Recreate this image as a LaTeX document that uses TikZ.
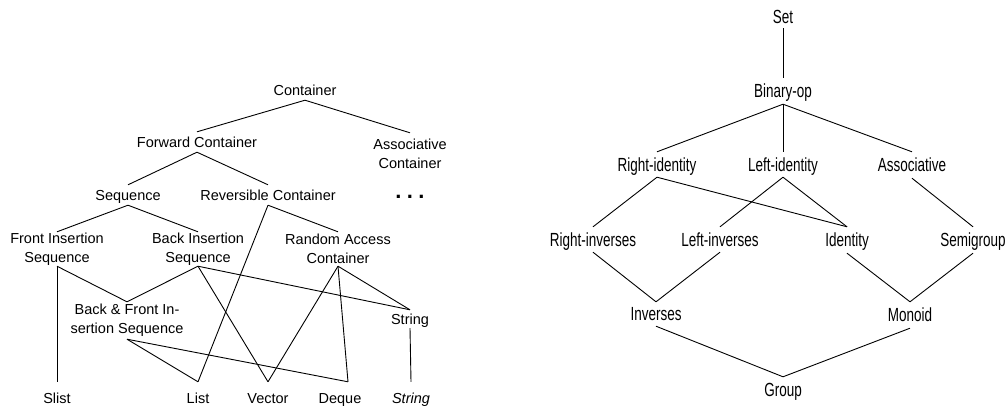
\documentclass[tikz,border=0pt]{standalone}
\usepackage{fontspec}
\setmainfont{Liberation Sans}
\newfontfamily\narrowfont[FakeStretch=0.71]{Liberation Sans}
\tikzset{
  lt/.style={font=\fontsize{14.5}{19}\selectfont, inner sep=0pt, text height=10.4pt, text depth=0pt, minimum height=20pt},
  ltt/.style={font=\fontsize{14.5}{19}\selectfont, inner sep=0pt, align=center},
  rt/.style={font=\fontsize{19}{23}\selectfont\narrowfont, inner sep=0pt, text height=13.6pt, text depth=0pt},
  edge/.style={line width=0.9pt, black}
}
\begin{document}
\begin{tikzpicture}[x=1pt,y=-1pt]
\useasboundingbox (0,0) rectangle (1008,410);
% ---------- left diagram ----------
\node[lt] (cont) at (305,90) {Container};
\node[lt] (fwd) at (197,142) {Forward Container};
\node[ltt, minimum height=41pt] (assoc) at (410,153.5) {Associative\\Container};
\node[lt] (seq) at (128,195) {Sequence};
\node[lt] (rev) at (268,195) {Reversible Container};
\node[inner sep=0pt, anchor=base, font=\bfseries\fontsize{22}{24}\selectfont] (dots) at (410,198) {.\hspace{5.4pt}.\hspace{5.4pt}.};
\node[ltt, minimum height=34pt] (fis) at (57,249) {Front Insertion\\Sequence};
\node[ltt, minimum height=34pt] (bis) at (198,249) {Back Insertion\\Sequence};
\node[ltt, minimum height=34pt] (ra) at (338,249) {Random Access\\Container};
\node[ltt, minimum height=37pt] (bf) at (127,320.5) {Back \& Front In-\\sertion Sequence};
\node[lt, minimum height=18pt] (str) at (410,319) {String};
\node[lt, minimum height=32pt] (slist) at (57,398) {Slist};
\node[lt, minimum height=32pt] (list) at (198,398) {List};
\node[lt, minimum height=32pt] (vec) at (268,398) {Vector};
\node[lt, minimum height=32pt] (deq) at (340,398) {Deque};
\node[lt, minimum height=32pt] (stri) at (411,398) {\textit{String}};
\coordinate (deqtop) at ([xshift=8pt]deq.north);
\draw[edge] (cont.south) -- (fwd.north);
\draw[edge] (cont.south) -- (assoc.north);
\draw[edge] (fwd.south) -- (seq.north);
\draw[edge] (fwd.south) -- (rev.north);
\draw[edge] (seq.south) -- (fis.north);
\draw[edge] (seq.south) -- (bis.north);
\draw[edge] (rev.south) -- (list.north);
\draw[edge] (rev.south) -- (ra.north);
\draw[edge] (fis.south) -- (slist.north);
\draw[edge] (fis.south) -- (bf.north);
\draw[edge] (bis.south) -- (bf.north);
\draw[edge] (bis.south) -- (vec.north);
\draw[edge] (bis.south) -- (str.north);
\draw[edge] (ra.south) -- (vec.north);
\draw[edge] (ra.south) -- (deqtop);
\draw[edge] (ra.south) -- (str.north);
\draw[edge] (bf.south) -- (list.north);
\draw[edge] (bf.south) -- (deqtop);
\draw[edge] (str.south) -- (stri.north);
% ---------- right diagram ----------
\node[rt, minimum height=22pt] (set) at (783,17) {Set};
\node[rt, minimum height=26pt] (bin) at (783,91) {Binary-op};
\node[rt, minimum height=25pt] (ri) at (657,164.5) {Right-identity};
\node[rt, minimum height=25pt] (li) at (783,164.5) {Left-identity};
\node[rt, minimum height=26pt] (as) at (912,165) {Associative};
\node[rt, minimum height=25pt] (rinv) at (593,239.5) {Right-inverses};
\node[rt, minimum height=25pt] (linv) at (720,239.5) {Left-inverses};
\node[rt, minimum height=26pt] (id) at (847,240) {Identity};
\node[rt, minimum height=26pt] (semi) at (973,240) {Semigroup};
\node[rt, minimum height=24pt] (inv) at (656,314) {Inverses};
\node[rt, minimum height=26pt] (mon) at (910,315) {Monoid};
\node[rt, minimum height=26pt] (grp) at (783,390) {Group};
\draw[edge] (set.south) -- (bin.north);
\draw[edge] (bin.south) -- (ri.north);
\draw[edge] (bin.south) -- (li.north);
\draw[edge] (bin.south) -- (as.north);
\draw[edge] (ri.south) -- (rinv.north);
\draw[edge] (ri.south) -- (id.north);
\draw[edge] (li.south) -- (linv.north);
\draw[edge] (li.south) -- (id.north);
\draw[edge] (as.south) -- (semi.north);
\draw[edge] (rinv.south) -- (inv.north);
\draw[edge] (linv.south) -- (inv.north);
\draw[edge] (id.south) -- (mon.north);
\draw[edge] (semi.south) -- (mon.north);
\draw[edge] (inv.south) -- (grp.north);
\draw[edge] (mon.south) -- (grp.north);
\end{tikzpicture}
\end{document}
